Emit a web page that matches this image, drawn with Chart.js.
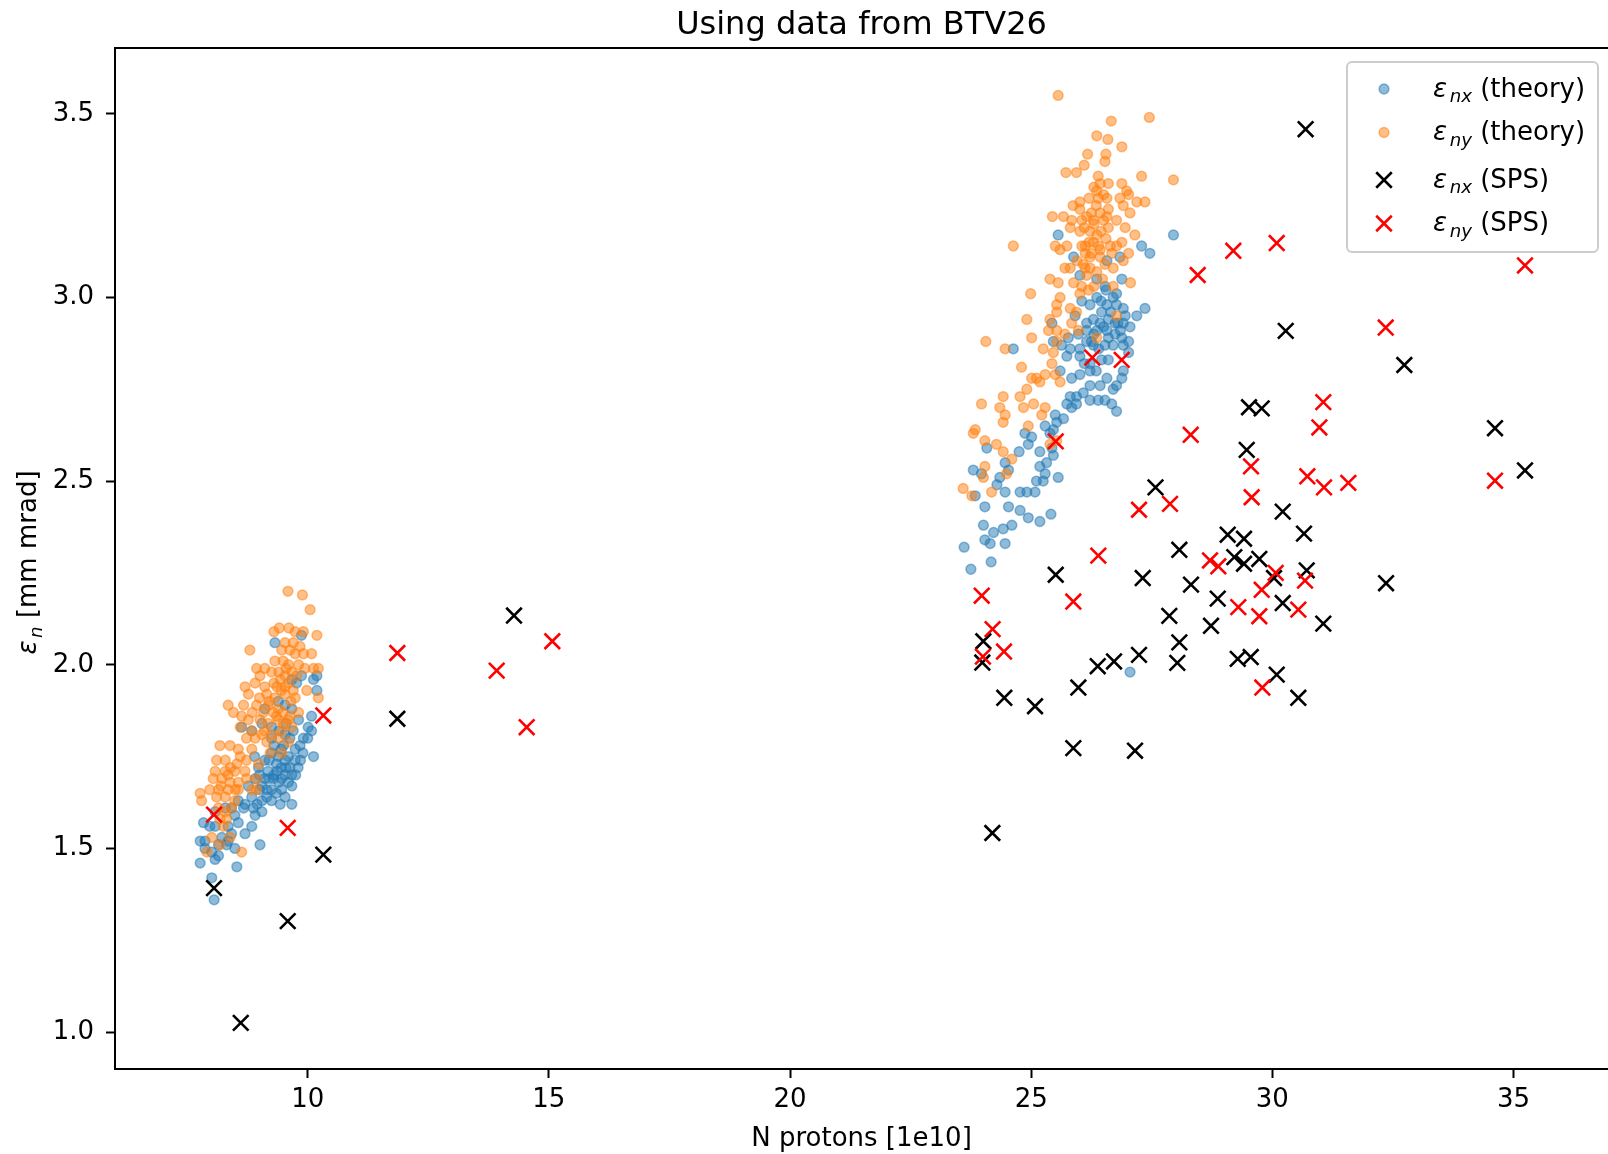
<!DOCTYPE html>
<html><head><meta charset="utf-8">
<script src="https://cdn.jsdelivr.net/npm/chart.js@4/dist/chart.umd.min.js"></script>
<style>html,body{margin:0;padding:0;background:#fff;overflow:hidden}#wrap{width:1608px;height:1154px}</style>
</head><body>
<div id="wrap"><canvas id="c" width="1608" height="1154"></canvas></div>
<script>
const chartTitle = 'Using data from BTV26';
const xAxisTitle = 'N protons [1e10]';
const yAxisTitle = {sym: 'ε', sub: 'n', rest: ' [mm mrad]'};
const xTicks = [10, 15, 20, 25, 30, 35];
const xTickLabels = ['10', '15', '20', '25', '30', '35'];
const yTicks = [1.0, 1.5, 2.0, 2.5, 3.0, 3.5];
const yTickLabels = ['1.0', '1.5', '2.0', '2.5', '3.0', '3.5'];
const legendLabels = [
  {sym: 'ε', sub: 'nx', rest: ' (theory)'},
  {sym: 'ε', sub: 'ny', rest: ' (theory)'},
  {sym: 'ε', sub: 'nx', rest: ' (SPS)'},
  {sym: 'ε', sub: 'ny', rest: ' (SPS)'}
];

// ε_nx (theory) : [N protons, emittance]
const epsNxTheory = [
[9.32,2.06],[9.87,2.08],[10.19,1.97],[10.12,1.96],[10.19,1.93],[9.67,1.96],[9.77,1.95],[9.87,1.97],[10.08,1.86],[10.01,1.83],
[10.08,1.82],[10.12,1.75],[9.81,1.85],[9.91,1.80],[9.74,1.77],[9.84,1.78],[9.53,1.81],[9.63,1.80],[9.11,1.88],[9.39,1.90],
[9.53,1.89],[9.67,1.88],[8.63,1.83],[8.84,1.82],[9.05,1.84],[9.25,1.83],[9.74,1.74],[9.63,1.72],[9.53,1.74],[9.39,1.75],
[9.25,1.76],[9.11,1.74],[8.98,1.72],[9.18,1.71],[9.36,1.71],[9.53,1.70],[9.67,1.70],[9.11,1.69],[9.29,1.69],[9.46,1.69],
[9.05,1.67],[9.25,1.66],[9.46,1.66],[9.67,1.67],[9.53,1.64],[9.67,1.62],[9.43,1.62],[9.25,1.63],[9.05,1.63],[8.84,1.64],
[8.70,1.62],[8.56,1.63],[8.42,1.61],[8.67,1.61],[8.87,1.61],[9.05,1.60],[8.91,1.59],[8.49,1.59],[8.29,1.61],[8.08,1.60],
[7.84,1.57],[8.08,1.56],[8.35,1.56],[8.56,1.57],[8.84,1.56],[8.70,1.54],[8.42,1.54],[8.22,1.53],[8.35,1.52],[8.15,1.51],
[7.77,1.52],[7.87,1.50],[8.01,1.49],[8.15,1.48],[8.32,1.51],[8.49,1.50],[7.77,1.46],[8.08,1.47],[8.53,1.45],[9.01,1.51],
[8.01,1.42],[8.06,1.36],[7.87,1.52],[7.97,1.56],[8.91,1.69],[9.15,1.64],[8.77,1.67],[9.35,1.73],[9.45,1.72],[9.60,1.75],
[9.20,1.69],[9.00,1.70],[9.30,1.78],[9.50,1.78],[9.80,1.72],[9.90,1.76],[10.00,1.80],[8.90,1.75],[9.70,1.82],
[9.40,1.68],[9.55,1.72],[9.30,1.70],[9.20,1.74],[9.45,1.77],[9.60,1.68],[9.15,1.66],[9.35,1.65],[9.00,1.66],[8.95,1.62],
[9.75,1.70],[9.85,1.74],[9.25,1.80],[9.55,1.84],[9.40,1.82],
[25.56,3.17],[25.88,3.11],[27.29,3.14],[27.46,3.12],[26.84,3.11],[26.57,3.10],[26.01,3.06],[26.36,3.05],[26.88,3.05],[26.53,3.03],
[26.77,3.01],[26.05,2.99],[26.22,2.98],[26.36,3.00],[26.57,2.98],[26.77,2.98],[26.91,2.97],[26.46,2.96],[26.29,2.94],[26.15,2.93],
[25.91,2.95],[26.43,2.93],[26.60,2.94],[26.74,2.93],[26.91,2.93],[27.05,2.92],[27.19,2.95],[27.36,2.97],[25.77,2.89],[25.98,2.90],
[26.15,2.91],[26.36,2.91],[26.57,2.91],[26.74,2.90],[26.88,2.89],[27.02,2.88],[25.46,2.88],[25.63,2.87],[25.81,2.86],[26.01,2.86],
[26.15,2.88],[26.29,2.87],[26.53,2.87],[26.70,2.87],[26.91,2.87],[27.02,2.85],[25.74,2.84],[26.01,2.84],[26.22,2.82],[26.46,2.83],
[25.60,2.80],[25.84,2.78],[26.01,2.79],[26.22,2.80],[26.91,2.80],[26.88,2.78],[26.57,2.78],[26.43,2.76],[26.22,2.76],[26.08,2.74],
[25.94,2.73],[25.74,2.71],[25.84,2.70],[26.22,2.72],[26.39,2.72],[26.70,2.75],[26.77,2.76],[26.67,2.71],[26.77,2.69],[25.50,2.68],
[25.53,2.66],[25.29,2.65],[25.46,2.64],[25.67,2.67],[24.63,2.86],[25.43,2.93],[25.94,2.71],[25.81,2.73],[26.53,2.72],
[26.45,2.99],[26.65,2.96],[26.50,2.92],[26.80,2.93],[26.30,2.90],[26.60,2.89],[26.40,2.86],[26.85,2.91],[26.70,3.00],[26.55,3.02],
[26.95,2.95],[26.25,2.88],[26.10,2.82],[26.35,2.80],[26.60,2.83],[27.95,3.17],
[24.87,2.63],[25.01,2.62],[25.39,2.63],[24.94,2.60],[25.18,2.58],[25.43,2.59],[25.46,2.57],[25.32,2.55],[25.18,2.54],[25.29,2.52],
[25.11,2.50],[25.25,2.50],[24.75,2.58],[24.46,2.55],[24.53,2.53],[24.35,2.51],[24.08,2.59],[23.80,2.53],[23.97,2.52],[24.29,2.49],
[24.46,2.47],[24.77,2.47],[24.91,2.47],[25.08,2.47],[25.56,2.51],[24.04,2.43],[24.53,2.43],[24.77,2.42],[24.94,2.40],[25.18,2.39],
[25.41,2.41],[24.01,2.38],[24.22,2.36],[24.42,2.37],[24.60,2.38],[24.04,2.34],[24.15,2.33],[24.46,2.33],[23.61,2.32],[24.17,2.28],
[23.75,2.26],[23.84,2.46],[27.05,1.98]
];

// ε_ny (theory)
const epsNyTheory = [
[9.59,2.20],[9.89,2.19],[10.05,2.15],[10.19,2.08],[9.30,2.09],[9.41,2.10],[9.61,2.10],[9.74,2.09],[9.91,2.09],[9.53,2.06],
[9.70,2.06],[9.84,2.05],[8.80,2.04],[9.46,2.04],[9.63,2.04],[9.74,2.03],[9.91,2.03],[10.08,2.03],[9.32,2.01],[9.49,2.01],
[9.60,2.00],[9.81,2.00],[9.94,1.99],[10.12,1.99],[10.22,1.99],[8.94,1.99],[9.11,1.99],[9.25,1.98],[9.53,1.97],[9.67,1.98],
[9.77,1.97],[9.01,1.97],[9.43,1.96],[8.91,1.95],[8.70,1.94],[9.11,1.94],[9.36,1.94],[9.53,1.94],[9.70,1.93],[9.98,1.93],
[10.22,1.91],[8.77,1.92],[9.15,1.92],[9.32,1.91],[9.53,1.92],[9.74,1.91],[8.35,1.89],[8.67,1.89],[8.94,1.89],[9.18,1.89],
[9.39,1.88],[8.46,1.87],[8.63,1.86],[9.08,1.87],[9.29,1.87],[9.49,1.87],[9.63,1.86],[9.81,1.87],[8.77,1.85],[9.01,1.85],
[9.18,1.84],[9.39,1.85],[9.60,1.85],[8.60,1.83],[8.84,1.82],[9.05,1.81],[9.25,1.81],[9.46,1.82],[9.67,1.83],[8.73,1.80],
[8.91,1.80],[9.15,1.79],[9.39,1.80],[9.60,1.79],[8.18,1.78],[8.39,1.78],[8.56,1.77],[8.84,1.77],[9.22,1.76],[9.46,1.76],
[8.11,1.74],[8.29,1.74],[8.53,1.73],[8.73,1.74],[8.98,1.73],[8.08,1.71],[8.29,1.71],[8.49,1.71],[8.04,1.69],[8.22,1.69],
[8.39,1.68],[8.56,1.68],[8.73,1.69],[8.94,1.69],[7.97,1.66],[8.15,1.66],[8.35,1.66],[8.56,1.66],[8.84,1.66],[8.94,1.66],
[7.77,1.65],[7.80,1.63],[8.11,1.64],[8.29,1.64],[8.49,1.63],[8.15,1.61],[8.29,1.60],[8.42,1.61],[8.18,1.58],[8.25,1.56],
[8.01,1.53],[8.39,1.53],[8.18,1.51],[7.91,1.49],[8.63,1.49],[8.32,1.58],
[9.30,1.95],[9.45,1.93],[9.40,1.98],[9.55,1.99],[9.20,1.90],[9.35,1.86],[9.65,1.90],[9.50,1.84],[9.00,1.91],[8.85,1.87],
[8.40,1.72],[8.60,1.75],[8.50,1.66],[8.35,1.70],[8.70,1.71],[8.20,1.67],[9.10,1.82],[9.60,1.95],
[25.56,3.55],[26.66,3.48],[27.45,3.49],[26.36,3.44],[26.59,3.43],[26.88,3.41],[27.95,3.32],
[26.17,3.39],[26.55,3.39],[26.53,3.37],[26.10,3.36],[25.72,3.34],[25.94,3.34],[26.39,3.33],[27.29,3.33],[26.43,3.31],[26.60,3.31],
[26.88,3.31],[26.98,3.29],[26.36,3.29],[26.39,3.27],[26.57,3.27],[26.84,3.27],[27.02,3.28],[27.19,3.26],[27.36,3.26],[25.87,3.25],
[26.01,3.26],[26.01,3.24],[26.91,3.25],[27.05,3.23],[25.44,3.22],[25.67,3.22],[25.84,3.21],[26.05,3.21],[26.25,3.23],[26.43,3.23],
[26.57,3.22],[26.29,3.21],[26.50,3.21],[26.77,3.21],[26.95,3.19],[27.15,3.17],[25.81,3.19],[26.01,3.18],[26.22,3.18],[26.36,3.17],
[26.60,3.19],[24.63,3.14],[25.50,3.14],[25.60,3.13],[25.74,3.14],[26.12,3.14],[26.29,3.15],[26.43,3.13],[26.64,3.14],[26.77,3.14],
[26.88,3.15],[26.67,3.12],[27.02,3.12],[26.91,3.10],[26.12,3.12],[26.22,3.11],[26.43,3.11],[26.53,3.09],[26.70,3.08],[25.70,3.08],
[25.81,3.08],[26.08,3.09],[26.22,3.08],[25.88,3.04],[26.05,3.03],[26.15,3.06],[26.36,3.07],[26.70,3.03],[27.06,3.04],[25.39,3.05],
[25.56,3.04],[24.99,3.01],[25.60,3.00],[26.01,3.01],[26.19,3.02],[25.53,2.98],[25.81,2.97],[25.94,2.96],[25.53,2.96],[25.39,2.94],
[24.91,2.94],[25.84,2.93],[25.36,2.91],[25.53,2.91],[25.70,2.90],[25.98,2.91],[25.01,2.89],[25.53,2.88],[25.25,2.86],[25.46,2.85],
[24.46,2.86],[26.36,2.89],[26.77,2.95],[25.43,2.82],[24.80,2.81],[25.01,2.78],[25.11,2.78],[25.29,2.79],[25.50,2.79],[25.60,2.77],
[24.91,2.75],[25.18,2.77],[24.42,2.73],[24.77,2.73],[24.35,2.70],[24.84,2.70],[25.05,2.71],[25.29,2.70],[24.46,2.68],[24.42,2.66],
[25.22,2.68],[24.94,2.65],
[26.15,3.22],[26.30,3.20],[26.45,3.18],[26.35,3.25],[26.20,3.15],[26.55,3.16],[26.40,3.14],[26.25,3.12],[26.10,3.19],[26.60,3.24],
[26.30,3.30],[26.50,3.28],[26.20,3.27],[26.05,3.14],[26.48,3.05],[26.30,3.03],[25.95,3.10],[26.12,3.08],
[24.06,2.88],[23.97,2.71],[23.84,2.64],[23.80,2.63],[24.04,2.61],[24.28,2.60],[24.42,2.58],[24.60,2.56],[24.04,2.54],[24.01,2.51],
[24.49,2.52],[24.18,2.47],[23.59,2.48],[23.77,2.46],[25.53,2.61],[25.39,2.60]
];

// ε_nx (SPS)
const epsNxSPS = [
[8.057,1.392],[8.611,1.025],[9.585,1.302],[10.323,1.483],[11.858,1.853],[14.277,2.134],[30.69,3.458],[30.278,2.909],[32.737,2.816],[34.617,2.644],
[35.239,2.529],[29.517,2.701],[29.78,2.698],[29.469,2.585],[27.578,2.483],[30.216,2.417],[30.657,2.357],[29.075,2.354],[29.413,2.343],[28.072,2.313],
[29.212,2.293],[29.413,2.275],[29.73,2.288],[30.035,2.236],[30.713,2.257],[32.358,2.222],[27.313,2.236],[28.314,2.218],[28.868,2.18],[30.216,2.168],
[27.864,2.133],[28.729,2.106],[31.057,2.112],[28.072,2.061],[27.236,2.027],[26.718,2.009],[28.03,2.005],[29.283,2.016],[29.552,2.021],[30.091,1.973],
[30.539,1.91],[27.153,1.766],[26.38,1.996],[25.978,1.938],[25.874,1.773],[25.509,2.245],[24.008,2.064],[23.987,2.006],[24.443,1.91],[25.08,1.887],
[24.195,1.542]
];

// ε_ny (SPS)
const epsNySPS = [
[8.057,1.592],[9.585,1.556],[10.323,1.862],[11.858,2.032],[13.918,1.984],[15.071,2.064],[14.54,1.83],[35.239,3.087],[29.191,3.127],[30.091,3.148],
[28.453,3.061],[32.351,2.918],[26.877,2.83],[26.268,2.836],[31.057,2.715],[30.975,2.646],[29.558,2.54],[29.572,2.456],[30.726,2.513],[31.072,2.483],
[31.576,2.495],[34.617,2.501],[28.308,2.626],[27.879,2.438],[27.236,2.422],[25.509,2.608],[26.392,2.297],[23.975,2.188],[25.874,2.172],[24.2,2.097],
[24.437,2.036],[24.0,2.022],[28.708,2.284],[28.88,2.268],[30.07,2.25],[30.678,2.229],[29.78,2.204],[29.295,2.157],[29.73,2.132],[30.539,2.15],
[29.793,1.938]
];

const FONT = '"DejaVu Sans", "Liberation Sans", sans-serif';
const toPts = a => a.map(p => ({x: p[0], y: p[1]}));

const datasets = [
  {label: 'nx theory', data: toPts(epsNxTheory), pointStyle: 'circle', pointRadius: 4.9, pointBorderWidth: 1.5,
   pointBackgroundColor: 'rgba(31,119,180,0.5)', pointBorderColor: 'rgba(31,119,180,0.5)', order: 4},
  {label: 'ny theory', data: toPts(epsNyTheory), pointStyle: 'circle', pointRadius: 4.9, pointBorderWidth: 1.5,
   pointBackgroundColor: 'rgba(255,127,14,0.5)', pointBorderColor: 'rgba(255,127,14,0.5)', order: 3},
  {label: 'nx SPS', data: toPts(epsNxSPS), pointStyle: 'crossRot', pointRadius: 11, pointBorderWidth: 2.6,
   pointBackgroundColor: '#000000', pointBorderColor: '#000000', order: 2},
  {label: 'ny SPS', data: toPts(epsNySPS), pointStyle: 'crossRot', pointRadius: 11, pointBorderWidth: 2.6,
   pointBackgroundColor: '#ff0000', pointBorderColor: '#ff0000', order: 1}
];

function drawMath(ctx, x, y, parts, size) {
  ctx.font = 'italic ' + size + 'px ' + FONT;
  ctx.fillText(parts.sym, x, y);
  x += ctx.measureText(parts.sym).width + size * 0.1;
  const ss = size * 0.7;
  ctx.font = 'italic ' + ss + 'px ' + FONT;
  ctx.fillText(parts.sub, x, y + size * 0.22);
  x += ctx.measureText(parts.sub).width;
  ctx.font = size + 'px ' + FONT;
  ctx.fillText(parts.rest, x, y);
}
function mathWidth(ctx, parts, size) {
  ctx.font = 'italic ' + size + 'px ' + FONT;
  let w = ctx.measureText(parts.sym).width + size * 0.1;
  ctx.font = 'italic ' + (size * 0.7) + 'px ' + FONT;
  w += ctx.measureText(parts.sub).width;
  ctx.font = size + 'px ' + FONT;
  w += ctx.measureText(parts.rest).width;
  return w;
}

const extras = {
  id: 'extras',
  afterDraw(chart) {
    const ctx = chart.ctx, a = chart.chartArea;
    ctx.save();
    // title, centred over the axes
    ctx.fillStyle = '#000'; ctx.textAlign = 'center'; ctx.textBaseline = 'alphabetic';
    ctx.font = '32px ' + FONT;
    ctx.fillText(chartTitle, (a.left + a.right) / 2, 34);
    // top spine
    ctx.strokeStyle = '#000'; ctx.lineWidth = 2;
    ctx.beginPath(); ctx.moveTo(a.left - 1, a.top); ctx.lineTo(a.right, a.top); ctx.stroke();
    // y axis title
    ctx.save();
    ctx.fillStyle = '#000'; ctx.textBaseline = 'alphabetic'; ctx.textAlign = 'left';
    ctx.translate(36, (a.top + a.bottom) / 2 + 4);
    ctx.rotate(-Math.PI / 2);
    const yw = mathWidth(ctx, yAxisTitle, 26);
    drawMath(ctx, -yw / 2, 0, yAxisTitle, 26);
    ctx.restore();
    // legend
    const bx = 1347, by = 62, bw = 251, bh = 190, r = 5;
    ctx.beginPath();
    ctx.moveTo(bx + r, by); ctx.lineTo(bx + bw - r, by); ctx.arcTo(bx + bw, by, bx + bw, by + r, r);
    ctx.lineTo(bx + bw, by + bh - r); ctx.arcTo(bx + bw, by + bh, bx + bw - r, by + bh, r);
    ctx.lineTo(bx + r, by + bh); ctx.arcTo(bx, by + bh, bx, by + bh - r, r);
    ctx.lineTo(bx, by + r); ctx.arcTo(bx, by, bx + r, by, r); ctx.closePath();
    ctx.fillStyle = 'rgba(255,255,255,0.8)'; ctx.fill();
    ctx.strokeStyle = '#cccccc'; ctx.lineWidth = 2; ctx.stroke();
    const baselines = [96.5, 140, 187.5, 231];
    const mx = 1384;
    chart.data.datasets.forEach((ds, i) => {
      const yb = baselines[i], my = yb - 7.5;
      if (ds.pointStyle === 'circle') {
        ctx.beginPath(); ctx.arc(mx, my, ds.pointRadius, 0, Math.PI * 2);
        ctx.fillStyle = ds.pointBackgroundColor; ctx.fill();
        ctx.strokeStyle = ds.pointBorderColor; ctx.lineWidth = ds.pointBorderWidth; ctx.stroke();
      } else {
        const d = ds.pointRadius * Math.SQRT1_2;
        ctx.beginPath();
        ctx.moveTo(mx - d, my - d); ctx.lineTo(mx + d, my + d);
        ctx.moveTo(mx + d, my - d); ctx.lineTo(mx - d, my + d);
        ctx.strokeStyle = ds.pointBorderColor; ctx.lineWidth = ds.pointBorderWidth; ctx.stroke();
      }
      ctx.fillStyle = '#000'; ctx.textBaseline = 'alphabetic'; ctx.textAlign = 'left';
      drawMath(ctx, 1433, yb, legendLabels[i], 26);
    });
    ctx.restore();
  }
};

new Chart(document.getElementById('c'), {
  type: 'scatter',
  data: {datasets},
  plugins: [extras],
  options: {
    responsive: false, animation: false, events: [], devicePixelRatio: 1,
    layout: {padding: {top: 48, left: 0, right: 0, bottom: 0}, autoPadding: false},
    plugins: {
      legend: {display: false}, tooltip: {enabled: false}, title: {display: false}
    },
    scales: {
      x: {
        type: 'linear', position: 'bottom', min: 6.004, max: 36.96,
        afterBuildTicks: s => { s.ticks = xTicks.map(v => ({value: v})); },
        afterFit: s => { s.height = 85; },
        ticks: {autoSkip: false, maxRotation: 0, minRotation: 0, color: '#000', font: {family: FONT, size: 26}, padding: 7,
          callback: (v, i) => xTickLabels[i]},
        grid: {display: true, drawOnChartArea: false, drawTicks: true, tickLength: 9, tickWidth: 2, tickColor: '#000'},
        border: {display: true, color: '#000', width: 2},
        title: {display: true, text: xAxisTitle, color: '#000', font: {family: FONT, size: 26, lineHeight: 1.12}, padding: {top: 0, bottom: 0}}
      },
      y: {
        type: 'linear', position: 'left', min: 0.8995, max: 3.679,
        afterBuildTicks: s => { s.ticks = yTicks.map(v => ({value: v})); },
        afterFit: s => { s.width = 115; },
        ticks: {autoSkip: false, color: '#000', font: {family: FONT, size: 26}, padding: 12,
          callback: (v, i) => yTickLabels[i]},
        grid: {display: true, drawOnChartArea: false, drawTicks: true, tickLength: 9, tickWidth: 2, tickColor: '#000'},
        border: {display: true, color: '#000', width: 2},
        title: {display: false}
      }
    }
  }
});
</script>
</body></html>
